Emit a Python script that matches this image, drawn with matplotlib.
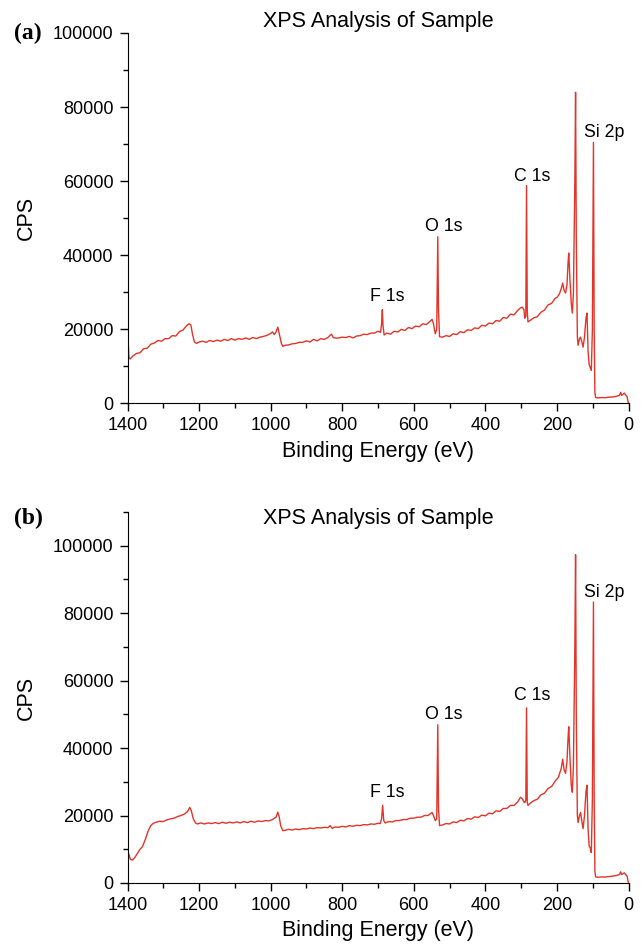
#!/usr/bin/env python3
"""XPS survey spectra, two stacked panels."""

import matplotlib
matplotlib.use("Agg")
import matplotlib.pyplot as plt
from matplotlib.ticker import MultipleLocator

plt.rcParams["font.family"] = ["Liberation Sans", "DejaVu Sans"]

LINE_COLOR = "#e3342a"

# panel (a) survey: (binding energy eV, counts per second)
SURVEY_A = [
    (1400, 17000), (1398, 16500), (1396, 12500), (1393, 12000), (1385, 12800),
    (1375, 13500), (1365, 13700), (1355, 14800), (1345, 14900), (1335, 16000),
    (1325, 16300), (1315, 17000), (1305, 16800), (1295, 17500), (1285, 17500),
    (1275, 18300), (1265, 18200), (1255, 19400), (1245, 19800), (1235, 21000),
    (1228, 21500), (1223, 21200), (1218, 18500), (1213, 16600), (1207, 16200),
    (1200, 16600), (1190, 16800), (1180, 16500), (1170, 17000), (1160, 16700),
    (1150, 17100), (1140, 16800), (1130, 17300), (1120, 17000), (1110, 17500),
    (1100, 17100), (1090, 17500), (1080, 17300), (1070, 17700), (1060, 17300),
    (1050, 17800), (1040, 17500), (1030, 17900), (1020, 18100), (1010, 18400),
    (1000, 18900), (995, 19300), (990, 18600), (985, 19300), (980, 20600),
    (975, 18400), (970, 16200), (966, 15400), (960, 15700), (950, 15800),
    (940, 16100), (930, 16200), (920, 16500), (910, 16500), (900, 16900),
    (890, 16600), (880, 17300), (870, 16900), (860, 17500), (850, 17300),
    (840, 17800), (835, 18300), (830, 18700), (825, 17800), (815, 17600),
    (800, 17900), (790, 17800), (780, 18100), (770, 17700), (760, 18200),
    (750, 18300), (740, 18700), (730, 18600), (720, 19000), (710, 19000),
    (700, 19500), (693, 19200), (690, 21500), (688, 25300), (686, 21000),
    (683, 18500), (675, 19000), (665, 18700), (655, 19500), (645, 19300),
    (635, 20000), (625, 19700), (615, 20500), (605, 20200), (595, 20900),
    (585, 20700), (575, 21500), (565, 21300), (555, 22100), (549, 22700),
    (545, 21500), (540, 18800), (536, 20000), (533, 45000), (531, 25000),
    (528, 18000), (520, 17900), (510, 18300), (500, 18100), (490, 18800),
    (480, 18600), (470, 19400), (460, 19100), (450, 19900), (440, 19700),
    (430, 20400), (420, 20200), (410, 21100), (400, 20900), (390, 21700),
    (380, 21500), (370, 22400), (360, 22200), (350, 23200), (340, 23000),
    (330, 24100), (320, 23900), (310, 25100), (302, 25800), (297, 26000),
    (292, 25200), (290, 23000), (287, 23500), (285, 58800), (283, 25000),
    (281, 22000), (275, 22400), (265, 23100), (255, 23400), (245, 24600),
    (235, 25200), (225, 26600), (215, 27000), (205, 28400), (200, 28600),
    (193, 29600), (188, 31000), (184, 32500), (180, 30500), (176, 29800),
    (172, 32000), (169, 38000), (167, 40600), (164, 34000), (160, 27000),
    (157, 24400), (154, 30000), (150, 60000), (148, 84000), (146, 45000),
    (143, 18000), (141, 15700), (137, 17500), (134, 17900), (130, 16500),
    (127, 15200), (123, 18000), (119, 23000), (116, 24400), (113, 14000),
    (110, 10500), (107, 9700), (104, 8900), (101, 20000), (98, 70500),
    (96, 20000), (94, 3000), (92, 1600), (85, 1500), (75, 1600),
    (65, 1550), (55, 1700), (45, 1750), (35, 1900), (25, 2200),
    (22, 3000), (19, 2200), (15, 2500), (12, 2800), (8, 2300),
    (4, 1800), (2, 800), (0, 0),
]

# panel (b) survey
SURVEY_B = [
    (1400, 9300), (1396, 8500), (1392, 7000), (1386, 6800), (1380, 7500),
    (1372, 8800), (1365, 10000), (1358, 10800), (1350, 13000), (1342, 15500),
    (1335, 17000), (1328, 17700), (1320, 18000), (1310, 18300), (1300, 18200),
    (1290, 18700), (1280, 19000), (1270, 19200), (1260, 19700), (1250, 20000),
    (1240, 20500), (1232, 21200), (1226, 22400), (1222, 21500), (1216, 19000),
    (1210, 17800), (1205, 17500), (1195, 17800), (1185, 17500), (1175, 17800),
    (1165, 17600), (1155, 17900), (1145, 17600), (1135, 18000), (1125, 17700),
    (1115, 18000), (1105, 17800), (1095, 18100), (1085, 17800), (1075, 18200),
    (1065, 17900), (1055, 18300), (1045, 18000), (1035, 18400), (1025, 18200),
    (1015, 18500), (1005, 18400), (995, 18800), (985, 19500), (980, 21000),
    (976, 19500), (972, 17000), (966, 15500), (960, 15600), (950, 15900),
    (940, 15700), (930, 16000), (920, 15800), (910, 16100), (900, 16000),
    (890, 16300), (880, 16100), (870, 16400), (860, 16300), (850, 16500),
    (840, 16400), (834, 17000), (828, 16200), (820, 16600), (810, 16500),
    (800, 16800), (790, 16600), (780, 17000), (770, 16800), (760, 17100),
    (750, 17000), (740, 17300), (730, 17200), (720, 17500), (710, 17400),
    (700, 17700), (694, 17600), (690, 19000), (687, 23000), (684, 18500),
    (680, 17800), (670, 18200), (660, 18100), (650, 18500), (640, 18500),
    (630, 18800), (620, 18800), (610, 19200), (600, 19200), (590, 19500),
    (580, 19500), (570, 20000), (560, 20000), (549, 20900), (545, 20000),
    (540, 18500), (536, 19000), (533, 46900), (531, 22000), (528, 17000),
    (520, 17200), (510, 17600), (500, 17500), (490, 18100), (480, 17900),
    (470, 18600), (460, 18400), (450, 19100), (440, 18900), (430, 19600),
    (420, 19400), (410, 20100), (400, 19900), (390, 20700), (380, 20500),
    (370, 21400), (360, 21200), (350, 22100), (340, 22100), (330, 23000),
    (320, 23000), (310, 24000), (302, 25400), (297, 25000), (292, 24000),
    (290, 23800), (287, 24500), (285, 51900), (283, 24000), (281, 23000),
    (275, 23600), (265, 24400), (255, 24800), (245, 26100), (235, 26600),
    (225, 28000), (215, 28600), (205, 30200), (196, 31300), (188, 34000),
    (184, 36700), (180, 33500), (176, 32500), (172, 36000), (169, 43000),
    (167, 46300), (164, 38000), (160, 29000), (157, 26900), (154, 35000),
    (150, 70000), (148, 97300), (146, 50000), (143, 20000), (141, 17900),
    (137, 20000), (134, 20900), (130, 18000), (127, 16100), (123, 20000),
    (119, 27000), (116, 29000), (113, 16000), (110, 11000), (107, 10400),
    (104, 9000), (101, 25000), (98, 83300), (96, 25000), (94, 3500),
    (92, 1800), (85, 1700), (75, 1800), (65, 1750), (55, 1900),
    (45, 2000), (35, 2200), (25, 2500), (22, 3300), (19, 2500),
    (15, 2800), (12, 3000), (8, 2500), (4, 2000), (2, 900),
    (0, 0),
]

PEAK_NAMES = ["F 1s", "O 1s", "C 1s", "Si 2p"]
PEAK_POS = [673, 517, 270, 67]
PEAK_TOP_A = [27600, 46500, 60000, 71900]
PEAK_TOP_B = [25500, 48700, 54100, 84900]


def draw_panel(ax, survey, peak_tops, ymax, title_y):
    energy = [p[0] for p in survey]
    cps = [p[1] for p in survey]
    ax.plot(energy, cps, color=LINE_COLOR, linewidth=1.0)
    ax.set_xlim(1400, 0)
    ax.set_ylim(0, ymax)
    ax.xaxis.set_major_locator(MultipleLocator(200))
    ax.xaxis.set_minor_locator(MultipleLocator(100))
    ax.yaxis.set_major_locator(MultipleLocator(20000))
    ax.yaxis.set_minor_locator(MultipleLocator(10000))
    ax.tick_params(which="major", direction="out", length=6, width=1,
                   labelsize=13, pad=4)
    ax.tick_params(which="minor", direction="out", length=3.3, width=1)
    ax.spines["top"].set_visible(False)
    ax.spines["right"].set_visible(False)
    ax.set_xlabel("Binding Energy (eV)", fontsize=15.5)
    ax.xaxis.set_label_coords(0.5, -0.1)
    ax.set_ylabel("CPS", fontsize=15.5)
    ax.yaxis.set_label_coords(-0.18, 0.5)
    ax.text(0.5, title_y, "XPS Analysis of Sample", transform=ax.transAxes,
            ha="center", va="baseline", fontsize=15.5)
    for name, x, y in zip(PEAK_NAMES, PEAK_POS, peak_tops):
        ax.text(x, y, name, ha="center", va="baseline", fontsize=12.8)


fig = plt.figure(figsize=(6.43, 9.48), dpi=100)
ax_a = fig.add_axes([0.1983, 0.5744, 0.7792, 0.3908])
ax_b = fig.add_axes([0.1983, 0.0686, 0.7792, 0.3914])
draw_panel(ax_a, SURVEY_A, PEAK_TOP_A, 100000, 1.016)
draw_panel(ax_b, SURVEY_B, PEAK_TOP_B, 110000, 0.9676)

for tag, y_px in [("(a)", 33), ("(b)", 518)]:
    fig.text(14 / 643, 1 - y_px / 948, tag, ha="left", va="center",
             fontsize=17, fontweight="bold", family="Liberation Serif")

fig.savefig("out.png", dpi=100)
